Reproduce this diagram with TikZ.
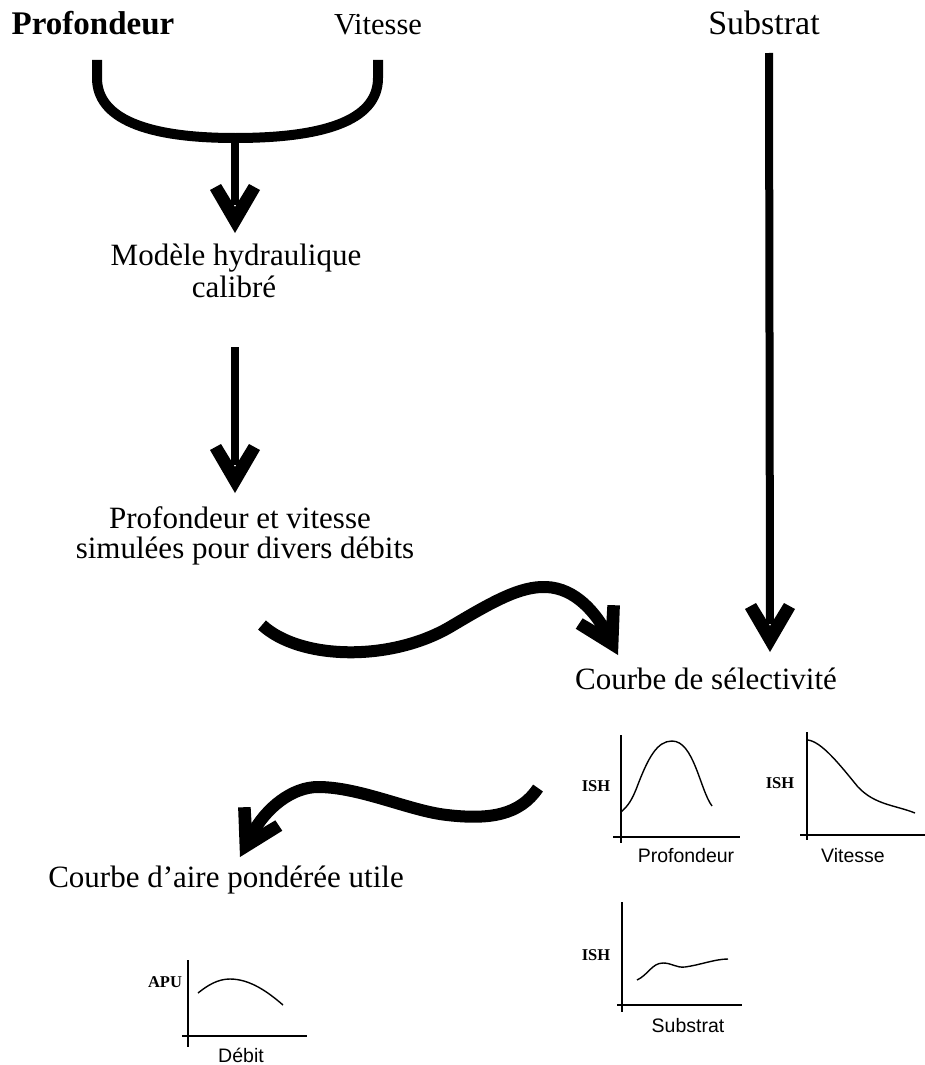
\documentclass[tikz,border=0pt]{standalone}
\usepackage{fontspec}
\setmainfont{Liberation Serif}
\setsansfont{Liberation Sans}
\usetikzlibrary{calc}
\tikzset{
  vhead/.pic={\fill (0,0) -- (-25,-43) -- (-14,-49) -- (0,-26) -- (14,-49) -- (25,-43) -- cycle;},
  bigtext/.style={font=\fontsize{31}{33}\selectfont, inner sep=0pt, anchor=base},
  toptext/.style={inner sep=0pt, anchor=base},
  axislabel/.style={font=\sffamily\fontsize{19.5}{21}\selectfont, inner sep=0pt, anchor=base},
  ishlabel/.style={font=\bfseries\fontsize{16.5}{17}\selectfont, inner sep=0pt, anchor=base},
  arcline/.style={line width=10pt, line cap=butt},
  shaft/.style={line width=8pt, line cap=butt},
  wave/.style={line width=12pt, line cap=butt},
  axisline/.style={line width=1.3pt},
  curveline/.style={line width=1.4pt},
}
\begin{document}
\begin{tikzpicture}[x=1pt,y=-1pt]
\useasboundingbox (0,0) rectangle (925,1065);

% top labels
\node[toptext, font=\bfseries\fontsize{33}{35}\selectfont] (prof) at (93,35) {Profondeur};
\node[toptext, font=\fontsize{30.5}{33}\selectfont] (vit) at (378,35) {Vitesse};
\node[toptext, font=\fontsize{34}{36}\selectfont] (sub) at (764,35) {Substrat};

% middle texts
\node[bigtext] (mod1) at (236,265) {Modèle hydraulique};
\node[bigtext] (mod2) at (234,297) {calibré};
\node[bigtext] (pv1) at (240,528) {Profondeur et vitesse};
\node[bigtext] (pv2) at (245,558) {simulées pour divers débits};
\node[bigtext] (cs) at (706,689) {Courbe de sélectivité};
\node[bigtext] (capu) at (226,887) {Courbe d'aire pondérée utile};

% connector coordinates
\coordinate (arcL) at (97,60);
\coordinate (arcR) at (378,60);
\coordinate (arcM) at (235,138);
\coordinate (tip1) at (235,233);
\coordinate (sh2top) at (235,347);
\coordinate (tip2) at (235,493);
\coordinate (subtop) at (769,53);
\coordinate (tip3) at (770,652);
\coordinate (w1s) at (262,625);
\coordinate (w1n) at (606,632);
\coordinate (w1tip) at (618,655);
\coordinate (w2s) at (538,788);
\coordinate (w2n) at (252,834);
\coordinate (w2tip) at (240,857);

% U-shaped merge
\draw[arcline] (arcL) -- (97,78) .. controls (97,118) and (145,138) .. (arcM)
  .. controls (320,138) and (378,122) .. (378,78) -- (arcR);
\draw[shaft] ($(arcM)+(0,-3)$) -- ($(tip1)+(0,-28)$);
\pic at (tip1) {vhead};

% second vertical arrow
\draw[shaft] (sh2top) -- ($(tip2)+(0,-28)$);
\pic at (tip2) {vhead};

% substrat arrow
\draw[shaft] (subtop) -- ($(tip3)+(0,-28)$);
\pic at (tip3) {vhead};

% wave arrow 1
\draw[wave] (w1s) .. controls (300,660) and (390,662) .. (450,627)
  .. controls (492,602) and (520,586) .. (546,587)
  .. controls (576,588) and (596,614) .. (w1n);
\pic[rotate=28] at (w1tip) {vhead};

% wave arrow 2
\draw[wave] (w2s) .. controls (520,815) and (490,820) .. (447,815)
  .. controls (410,811) and (360,787) .. (318,787)
  .. controls (292,787) and (266,808) .. (w2n);
\pic[rotate=-28] at (w2tip) {vhead};

% chart 1: Profondeur
\draw[axisline] (621,735) -- (621,843);
\draw[axisline] (613,837) -- (740,837);
\draw[curveline] (621,812) .. controls (628,806) and (632,800) .. (637,787)
  .. controls (648,758) and (657,741) .. (672,741)
  .. controls (694,741) and (700,790) .. (712,806);
\node[ishlabel] (ish1) at (596,791) {ISH};
\node[axislabel] (lp) at (686,862) {Profondeur};

% chart 2: Vitesse
\draw[axisline] (807,732) -- (807,840);
\draw[axisline] (800,835) -- (925,835);
\draw[curveline] (808,740) .. controls (822,742) and (840,765) .. (858,787)
  .. controls (875,805) and (895,805) .. (915,813);
\node[ishlabel] (ish2) at (780,788) {ISH};
\node[axislabel] (lv) at (853,862) {Vitesse};

% chart 3: Substrat
\draw[axisline] (622,902) -- (622,1012);
\draw[axisline] (617,1005) -- (742,1005);
\draw[curveline] (637,980) .. controls (648,975) and (652,963) .. (663,963)
  .. controls (672,963) and (676,968) .. (685,967)
  .. controls (700,965) and (715,959) .. (728,959);
\node[ishlabel] (ish3) at (596,960) {ISH};
\node[axislabel] (ls) at (688,1032) {Substrat};

% chart 4: APU
\draw[axisline] (188,960) -- (188,1047);
\draw[axisline] (182,1036) -- (307,1036);
\draw[curveline] (198,993) .. controls (208,985) and (218,979) .. (230,979)
  .. controls (250,979) and (268,992) .. (283,1005);
\node[ishlabel] (apu) at (165,987) {APU};
\node[axislabel] (ld) at (241,1062) {Débit};
\end{tikzpicture}
\end{document}
